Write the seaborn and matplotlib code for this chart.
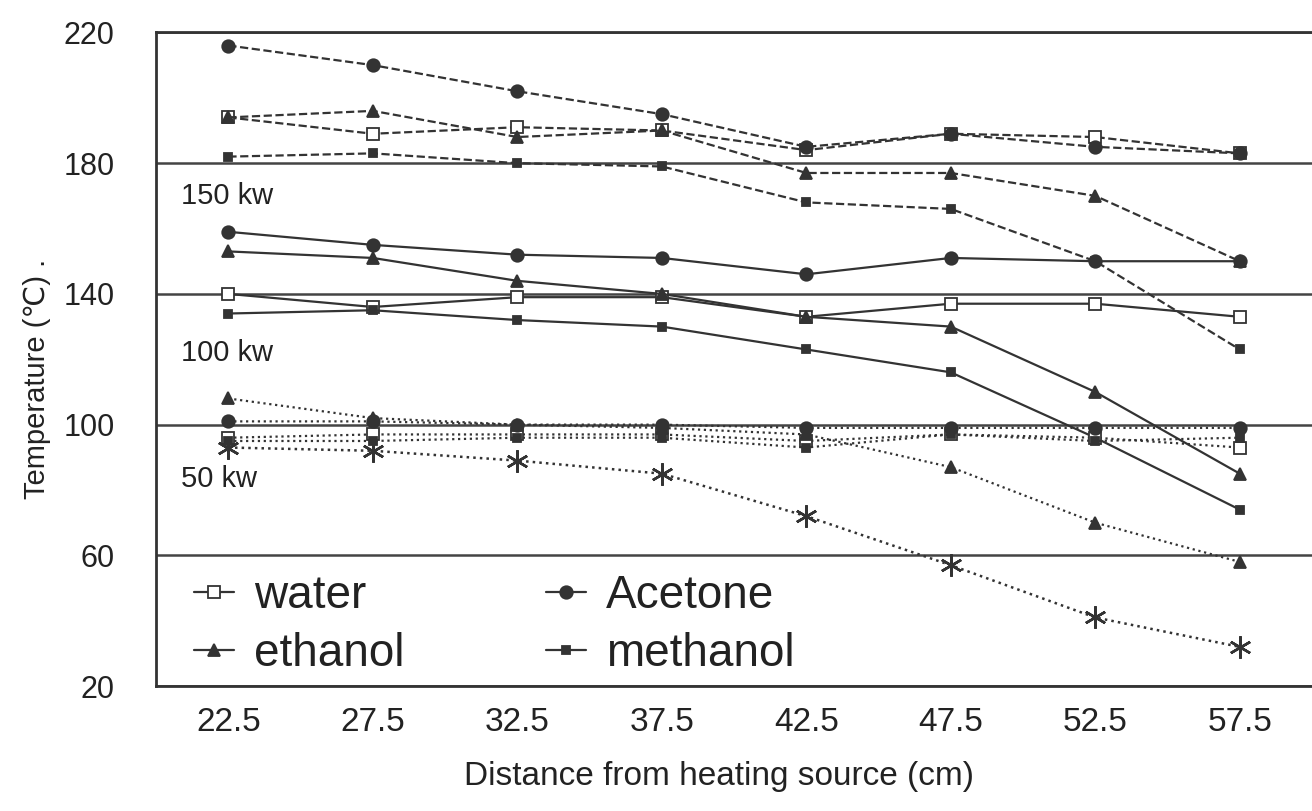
import numpy as np
import pandas as pd
import matplotlib
matplotlib.use('Agg')
import matplotlib.pyplot as plt
import seaborn as sns

sns.set_style('white')
plt.rcParams['font.family'] = ['Liberation Sans', 'DejaVu Sans']

# distance from heating source (cm)
distance = [22.5, 27.5, 32.5, 37.5, 42.5, 47.5, 52.5, 57.5]
yticks = [20, 60, 100, 140, 180, 220]

# 150 kw (dashed)
water_150 = [194, 189, 191, 190, 184, 189, 188, 183]
acetone_150 = [216, 210, 202, 195, 185, 189, 185, 183]
ethanol_150 = [194, 196, 188, 190, 177, 177, 170, 150]
methanol_150 = [182, 183, 180, 179, 168, 166, 150, 123]

# 100 kw (solid)
water_100 = [140, 136, 139, 139, 133, 137, 137, 133]
acetone_100 = [159, 155, 152, 151, 146, 151, 150, 150]
ethanol_100 = [153, 151, 144, 140, 133, 130, 110, 85]
methanol_100 = [134, 135, 132, 130, 123, 116, 96, 74]

# 50 kw (dotted)
water_50 = [96, 97, 97, 97, 95, 97, 96, 93]
acetone_50 = [101, 101, 100, 100, 99, 99, 99, 99]
ethanol_50 = [108, 102, 100, 99, 97, 87, 70, 58]
methanol_50 = [95, 95, 96, 96, 93, 97, 95, 96]
extra_50 = [93, 92, 89, 85, 72, 57, 41, 32]

ink = '#333333'
fluids = {
    'water': dict(marker='s', mfc='white', ms=8),
    'Acetone': dict(marker='o', mfc=ink, ms=9),
    'ethanol': dict(marker='^', mfc=ink, ms=9),
    'methanol': dict(marker='s', mfc=ink, ms=6),
}
series = [
    ('water', '--', water_150), ('Acetone', '--', acetone_150),
    ('ethanol', '--', ethanol_150), ('methanol', '--', methanol_150),
    ('water', '-', water_100), ('Acetone', '-', acetone_100),
    ('ethanol', '-', ethanol_100), ('methanol', '-', methanol_100),
    ('water', ':', water_50), ('Acetone', ':', acetone_50),
    ('ethanol', ':', ethanol_50), ('methanol', ':', methanol_50),
]

fig = plt.figure(figsize=(13.12, 8.11), dpi=100)
ax = fig.add_axes([0.119, 0.154, 0.881, 0.806])

handles = {}
for name, ls, vals in series:
    st = fluids[name]
    sns.lineplot(x=distance, y=vals, ax=ax, color=ink, linestyle=ls, linewidth=1.6,
                 marker=st['marker'], markersize=st['ms'], markerfacecolor=st['mfc'],
                 markeredgecolor=ink, markeredgewidth=1.3)
    if ls == '-':
        handles[name] = ax.lines[-1]

sns.lineplot(x=distance, y=extra_50, ax=ax, color=ink, linestyle=':', linewidth=1.8,
             marker=(6, 2, 0), markersize=16, markeredgecolor=ink, markeredgewidth=1.8)

ax.set_xlim(20, 60)
ax.set_ylim(20, 220)
ax.set_yticks(yticks)
ax.set_xticks(distance)
ax.set_xticklabels([str(d) for d in distance])
ax.yaxis.grid(True, color='#444444', linewidth=1.8)
ax.xaxis.grid(False)
for side in ['left', 'top', 'bottom']:
    ax.spines[side].set_color('#333333')
    ax.spines[side].set_linewidth(2)
ax.spines['right'].set_visible(False)
ax.tick_params(axis='y', length=0, pad=30, labelsize=22, labelcolor='#222222')
ax.tick_params(axis='x', length=0, pad=15, labelsize=24, labelcolor='#222222')

ax.set_xlabel('Distance from heating source (cm)', fontsize=24, color='#222222')
ax.xaxis.set_label_coords(0.487, -0.115)
ax.set_ylabel('Temperature (℃) .', fontsize=21, color='#222222')
ax.yaxis.set_label_coords(-0.091, 0.47)

for txt, yv in [('150 kw', 170), ('100 kw', 122), ('50 kw', 83.5)]:
    ax.text(20.85, yv, txt, fontsize=21, color='#222222', va='center')

order = ['water', 'ethanol', 'Acetone', 'methanol']
leg = ax.legend([handles[k] for k in order], order, ncol=2, loc='center left',
                bbox_to_anchor=(0.033, 0.093), frameon=False, fontsize=33,
                handlelength=0.87, handletextpad=0.43, columnspacing=3.1,
                labelspacing=0.3, borderaxespad=0, borderpad=0)
for t in leg.get_texts():
    t.set_color('#222222')

plt.savefig('out.png', dpi=100)
